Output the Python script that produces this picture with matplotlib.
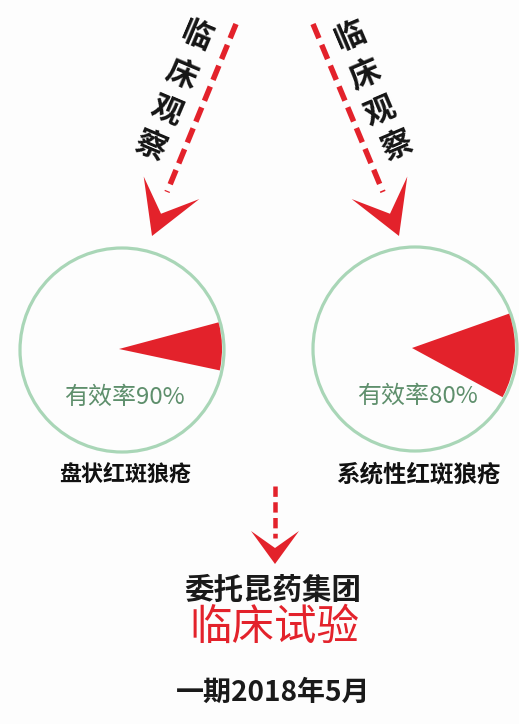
import matplotlib
matplotlib.use("Agg")
import matplotlib.pyplot as plt
from matplotlib.patches import Circle, Wedge, Polygon
import numpy as np

plt.rcParams['font.family'] = ['Noto Sans CJK SC', 'DejaVu Sans']

# ---- data ----
diseases = ['盘状红斑狼疮', '系统性红斑狼疮']
efficacy = [90, 80]                 # 有效率 (%)
wedge_span_deg = [27, 48]           # red sector as drawn in the picture
wedge_mid_deg = [1.5, -4.5]         # visual centre angle of sector
arrow_label = '临床观察'
company_line = '委托昆药集团'
trial_line = '临床试验'
date_line = '一期2018年5月'

# ---- style ----
RED = '#e3222b'
GREEN_RING = '#a9d6b7'
GREEN_TEXT = '#5e8f6c'

fig = plt.figure(figsize=(5.19, 7.24), dpi=100)
fig.patch.set_facecolor('#fdfdfd')
ax = fig.add_axes([0, 0, 1, 1])
ax.set_xlim(0, 519)
ax.set_ylim(724, 0)
ax.axis('off')

def pt(px):
    return px * 0.72

# circles with wedges
centers = [(122, 350), (415, 349)]
R = 102
label_size = [22, 23.5]
for (cx, cy), span, mid, eff, name, ls in zip(centers, wedge_span_deg, wedge_mid_deg,
                                               efficacy, diseases, label_size):
    ax.add_patch(Circle((cx, cy), R, fill=False, ec=GREEN_RING, lw=pt(3.2), zorder=2))
    # y axis inverted -> visual angle a corresponds to data angle -a
    ax.add_patch(Wedge((cx - 3, cy - 1), R + 1, -(mid + span / 2), -(mid - span / 2),
                       fc=RED, ec='none', zorder=3))
    ax.text(cx + 2, cy + 47, f'有效率{eff}%', color=GREEN_TEXT, fontsize=pt(24),
            ha='center', va='center', zorder=4)
    ax.text(cx + 3, cy + 125, name, color='#111111', fontsize=pt(ls), fontweight='bold',
            ha='center', va='center')

def chevron(tip, direction, length, half_w, notch):
    d = np.array(direction, float)
    d /= np.linalg.norm(d)
    n = np.array([-d[1], d[0]])
    tip = np.array(tip, float)
    back = tip - d * length
    pts = [tip, back + n * half_w, tip - d * notch, back - n * half_w]
    ax.add_patch(Polygon(pts, closed=True, fc=RED, ec='none', zorder=5))

def dashed(p0, p1, lw_px, dashes):
    ax.plot([p0[0], p1[0]], [p0[1], p1[1]], color=RED, lw=pt(lw_px),
            dashes=dashes, solid_capstyle='butt', dash_capstyle='butt', zorder=4)

# top-left arrow
dashed((236, 24), (167, 192), 5.5, (2.8, 1.3))
chevron((152, 236), (-85, 210), 52, 30, 24)
# top-right arrow
dashed((313, 24), (383, 192), 5.5, (2.8, 1.3))
chevron((399, 236), (85, 210), 52, 30, 24)

# rotated arrow labels
left_pos = [(197, 36), (181, 75), (166, 111), (150, 146)]
right_pos = [(351, 36), (365, 75), (380, 112), (397, 146)]
for ch, (x, y) in zip(arrow_label, left_pos):
    ax.text(x, y, ch, fontsize=pt(31), fontweight='bold', color='#151515',
            rotation=-23, ha='center', va='center', rotation_mode='anchor')
for ch, (x, y) in zip(arrow_label, right_pos):
    ax.text(x, y, ch, fontsize=pt(31), fontweight='bold', color='#151515',
            rotation=23, ha='center', va='center', rotation_mode='anchor')

# bottom arrow
dashed((275, 486), (275, 538), 4.5, (2.3, 1.2))
chevron((275, 564), (0, 1), 33, 24, 16)

ax.text(273, 590, company_line, fontsize=pt(29.5), color='#1a1a1a', fontweight='bold',
        ha='center', va='center')
ax.text(274, 628, trial_line, fontsize=pt(42.5), color=RED,
        ha='center', va='center')
ax.text(273, 693, date_line, fontsize=pt(28), color='#1a1a1a', fontweight='bold',
        ha='center', va='center')

fig.savefig('out.png', dpi=100, facecolor=fig.get_facecolor())
